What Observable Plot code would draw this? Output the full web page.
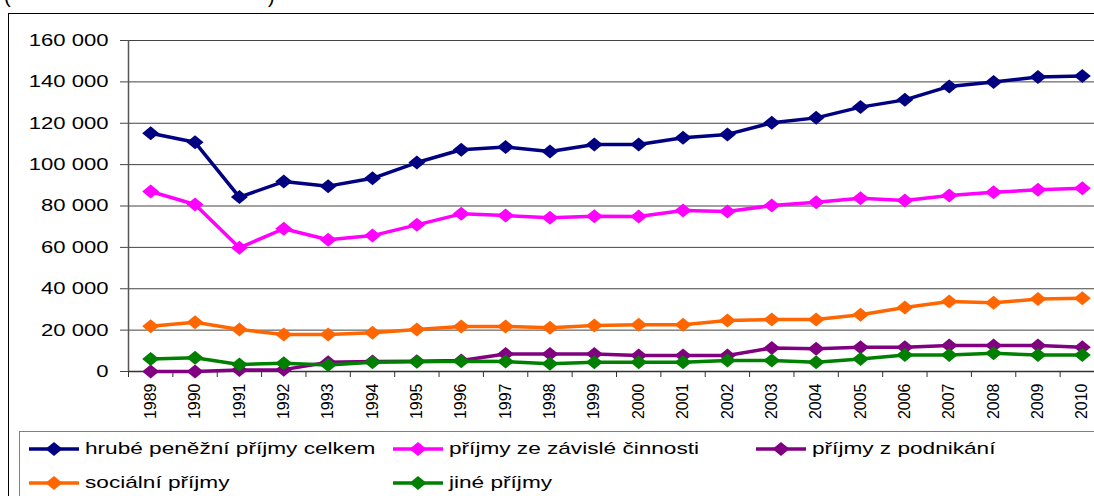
<!DOCTYPE html>
<html>
<head>
<meta charset="utf-8">
<script src="https://cdn.jsdelivr.net/npm/d3@7"></script>
<script src="https://cdn.jsdelivr.net/npm/@observablehq/plot@0.6"></script>
<style>
  html, body { margin: 0; padding: 0; background: #fff; }
  #wrap { position: relative; width: 1094px; height: 496px; overflow: hidden; background: #fff;
          font-family: "Liberation Sans", Arial, sans-serif; color: #000; }
  #frame { position: absolute; left: 8px; top: 13px; width: 2000px; height: 2000px; border: 1px solid #000; }
  #chart { position: absolute; left: 0; top: 0; }
  #legend { position: absolute; left: 19px; top: 431px; width: 2000px; height: 200px; border: 1px solid #808080; }
  .paren { position: absolute; top: -15px; font-size: 20px; }
  .item { position: absolute; height: 20px; }
  .item svg { position: absolute; left: 0; top: 0; }
  .item span { position: absolute; top: 0; line-height: 20px; font-size: 17px; white-space: nowrap;
               transform: scaleX(1.33); transform-origin: left center; }
</style>
</head>
<body>
<div id="wrap">
  <div id="frame"></div>
  <span class="paren" style="left:4px">(</span>
  <span class="paren" style="left:268px">)</span>
  <div id="chart"></div>
  <div id="legend"></div>
</div>
<script>
const years = [1989,1990,1991,1992,1993,1994,1995,1996,1997,1998,1999,2000,2001,2002,2003,2004,2005,2006,2007,2008,2009,2010];
const celkem    = [115200,110800,84300,91800,89600,93400,101000,107200,108500,106300,109700,109700,113000,114600,120200,122600,127800,131300,137800,139900,142400,142900];
const zavisle   = [87000,80700,59800,69000,63700,65700,70900,76200,75400,74300,75100,74900,77800,77300,80200,81800,83800,82700,85100,86700,87800,88600];
const podnikani = [0,0,700,900,4500,4800,5000,5300,8500,8500,8500,7700,7700,7700,11400,11000,11700,11700,12600,12600,12600,11700];
const socialni  = [21900,23800,20300,17900,17900,18700,20300,21800,21800,21100,22200,22600,22600,24700,25100,25100,27400,30900,33800,33200,35000,35400];
const jine      = [6100,6600,3400,4000,3200,4500,4700,5000,4800,3700,4500,4500,4500,5300,5300,4500,6100,8000,8000,8800,8000,8000];
const seriesNames  = ["hrubé peněžní příjmy celkem","příjmy ze závislé činnosti","příjmy z podnikání","sociální příjmy","jiné příjmy"];
const seriesValues = [celkem, zavisle, podnikani, socialni, jine];
const seriesColors = ["#000080","#FF00FF","#800080","#FF6600","#008000"];
const yTicks = [0,20000,40000,60000,80000,100000,120000,140000,160000];

const boundaries = [years[0] - 0.5, ...years.map(y => y + 0.5)];
const fmt = d3.formatLocale({decimal: ",", thousands: " ", grouping: [3], currency: ["", ""]}).format(",d");

const diamond = {
  draw(ctx, size) {
    const hw = 8.5, hh = 7;
    ctx.moveTo(0, -hh); ctx.lineTo(hw, 0); ctx.lineTo(0, hh); ctx.lineTo(-hw, 0); ctx.closePath();
  }
};

const seriesMarks = seriesNames.flatMap((name, k) => {
  const rows = years.map((yr, i) => ({year: yr, value: seriesValues[k][i]}));
  return [
    Plot.line(rows, {x: "year", y: "value", stroke: seriesColors[k], strokeWidth: 3.5}),
    Plot.dot(rows, {x: "year", y: "value", fill: seriesColors[k], stroke: "none", symbol: diamond, r: 5})
  ];
});

const chart = Plot.plot({
  width: 1094, height: 431,
  marginLeft: 128, marginTop: 40, marginBottom: 60, marginRight: -10,
  style: {background: "transparent", fontFamily: "'Liberation Sans', Arial, sans-serif", color: "#000", overflow: "visible"},
  x: {type: "linear", domain: [1988.5, 2010.5], label: null},
  y: {domain: [0, 160000], label: null},
  marks: [
    Plot.gridY({ticks: yTicks, stroke: "#444", strokeOpacity: 1, strokeWidth: 1}),
    Plot.axisY({ticks: yTicks, tickSize: 8, tickPadding: 12, tickFormat: fmt, fontSize: 17, stroke: "#444", label: null}),
    Plot.axisX({ticks: years, tickSize: 0, tickPadding: 12, tickRotate: -90, fontSize: 16, tickFormat: d => String(d), label: null}),
    Plot.axisX({ticks: boundaries, tickSize: 6, tickFormat: () => "", stroke: "#333", label: null}),
    Plot.ruleY([0], {stroke: "#333", strokeWidth: 1.5}),
    Plot.ruleX([1988.5], {stroke: "#555", strokeWidth: 1.5}),
    ...seriesMarks
  ]
});

chart.querySelectorAll('g[aria-label="y-axis tick label"] text').forEach(t => {
  const tr = t.getAttribute("transform");
  if (tr) t.setAttribute("transform", tr + " scale(1.3,1)");
  else {
    const x = +t.getAttribute("x") || 0;
    t.removeAttribute("x");
    t.setAttribute("transform", `translate(${x},0) scale(1.3,1)`);
  }
});
document.getElementById("chart").appendChild(chart);

// legend
const legend = document.getElementById("legend");
const colX = [8, 372, 735];
const rowY = [7, 41];
seriesNames.forEach((name, k) => {
  const col = k < 3 ? k : k - 3;
  const row = k < 3 ? 0 : 1;
  const item = document.createElement("div");
  item.className = "item";
  item.style.left = colX[col] + "px";
  item.style.top = rowY[row] + "px";
  item.style.width = "400px";
  const c = seriesColors[k];
  item.innerHTML = `<svg width="54" height="20"><line x1="1" x2="51" y1="10" y2="10" stroke="${c}" stroke-width="3.5"/>` +
    `<path d="M26,3 L34.5,10 L26,17 L17.5,10 Z" fill="${c}"/></svg><span style="left:57px">${name}</span>`;
  legend.appendChild(item);
});
</script>
</body>
</html>
